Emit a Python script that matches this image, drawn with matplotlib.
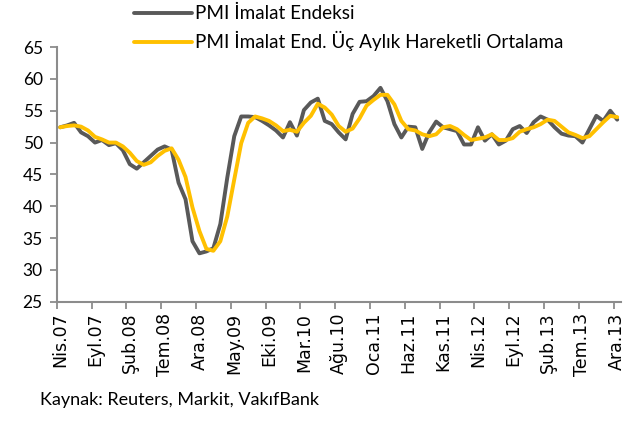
import numpy as np
import matplotlib.pyplot as plt

# Monthly PMI, Apr 2007 - Dec 2013
pmi = [52.4, 52.7, 53.1, 51.6, 51.0, 50.0, 50.4, 49.6, 49.9, 48.8,
       46.6, 45.9, 46.9, 47.9, 48.9, 49.4, 48.9, 43.7, 41.1, 34.5,
       32.6, 32.9, 33.4, 37.2, 44.5, 51.0, 54.1, 54.1, 54.0, 53.4,
       52.7, 51.9, 50.8, 53.2, 51.1, 55.1, 56.3, 56.9, 53.4, 52.9,
       51.6, 50.5, 54.5, 56.4, 56.5, 57.3, 58.6, 56.5, 52.9, 50.8,
       52.5, 52.4, 49.0, 51.6, 53.3, 52.4, 52.1, 51.8, 49.7, 49.7,
       52.4, 50.3, 51.3, 49.7, 50.3, 52.1, 52.6, 51.5, 53.2, 54.1,
       53.6, 52.4, 51.4, 51.1, 51.0, 50.0, 52.1, 54.2, 53.4, 55.0,
       53.6]

# three month moving average
pmi_ma = [52.4, 52.6, 52.7, 52.5, 51.9, 50.9, 50.5, 50.0, 50.0, 49.4,
          48.4, 47.1, 46.5, 46.9, 47.9, 48.7, 49.1, 47.3, 44.6, 39.8,
          36.1, 33.3, 33.0, 34.5, 38.4, 44.2, 49.9, 53.1, 54.1, 53.8,
          53.4, 52.7, 51.8, 52.0, 51.7, 53.1, 54.2, 56.1, 55.5, 54.4,
          52.6, 51.7, 52.2, 53.8, 55.8, 56.7, 57.5, 57.5, 56.0, 53.4,
          52.1, 51.9, 51.3, 51.0, 51.3, 52.4, 52.6, 52.1, 51.2, 50.4,
          50.6, 50.8, 51.3, 50.4, 50.4, 50.7, 51.7, 52.1, 52.4, 52.9,
          53.6, 53.4, 52.5, 51.6, 51.2, 50.7, 51.0, 52.1, 53.2, 54.2,
          54.0]

tick_labels = ['Nis.07', 'Eyl.07', 'Şub.08', 'Tem.08', 'Ara.08', 'May.09',
               'Eki.09', 'Mar.10', 'Ağu.10', 'Oca.11', 'Haz.11', 'Kas.11',
               'Nis.12', 'Eyl.12', 'Şub.13', 'Tem.13', 'Ara.13']

series_names = ['PMI İmalat Endeksi',
                'PMI İmalat End. Üç Aylık Hareketli Ortalama']

x = np.arange(len(pmi))
axis_grey = '#8c8c8c'

fig = plt.figure(figsize=(6.37, 4.32), dpi=100)
ax = fig.add_axes([0.089, 0.3016, 0.8854, 0.5894])

l1, = ax.plot(x, pmi, color='#595959', lw=2.8, solid_joinstyle='round',
              solid_capstyle='round')
l2, = ax.plot(x, pmi_ma, color='#ffc000', lw=2.8, solid_joinstyle='round',
              solid_capstyle='round')

ax.set_xlim(-0.5, len(pmi) - 0.5)
ax.set_ylim(25, 65)
ax.set_yticks(np.arange(25, 66, 5))

major = np.arange(0, len(pmi), 5)
ax.set_xticks(major)
ax.set_xticklabels(tick_labels, rotation=90, fontsize=12.5,
                   family='DejaVu Sans')
ax.set_xticks(major - 0.5, minor=True)
ax.tick_params(axis='x', which='major', length=0, pad=8)
ax.tick_params(axis='x', which='minor', length=5, width=1.3, color=axis_grey)
ax.tick_params(axis='y', length=5, width=1.3, color=axis_grey, pad=5)
for lab in ax.get_yticklabels():
    lab.set_family('Lato')
    lab.set_fontsize(12.5)

for side in ['top', 'right']:
    ax.spines[side].set_visible(False)
for side in ['left', 'bottom']:
    ax.spines[side].set_color(axis_grey)
    ax.spines[side].set_linewidth(1.5)

fig.legend([l1, l2], series_names, loc='upper left',
           bbox_to_anchor=(0.184, 1.027), frameon=False, handlelength=3.05,
           handletextpad=0.15, labelspacing=0.45,
           prop={'family': 'Lato', 'size': 13.6})

fig.text(0.063, 0.075, 'Kaynak: Reuters, Markit, VakıfBank', family='Lato',
         fontsize=13, va='center')

plt.savefig('out.png', dpi=100)
